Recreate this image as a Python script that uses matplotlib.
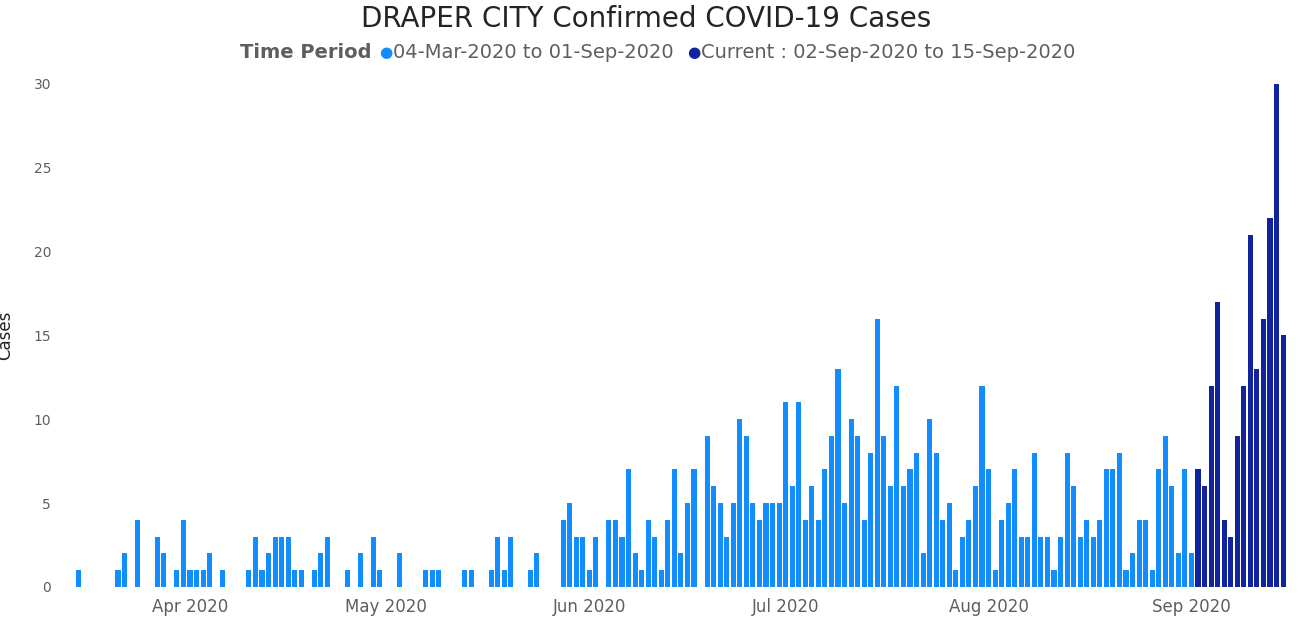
import matplotlib
matplotlib.use("Agg")
import matplotlib.pyplot as plt
import matplotlib.dates as mdates
import numpy as np
import datetime as dt

# day index from 15-Mar-2020 -> cases (zero days omitted)
past_cases = {0:1, 6:1, 7:2, 9:4, 12:3, 13:2, 15:1, 16:4, 17:1, 18:1, 19:1, 20:2, 22:1,
              26:1, 27:3, 28:1, 29:2, 30:3, 31:3, 32:3, 33:1, 34:1, 36:1, 37:2, 38:3, 41:1,
              43:2, 45:3, 46:1, 49:2, 53:1, 54:1, 55:1, 59:1, 60:1, 63:1, 64:3, 65:1, 66:3,
              69:1, 70:2, 74:4, 75:5, 76:3, 77:3, 78:1, 79:3, 81:4, 82:4, 83:3, 84:7, 85:2,
              86:1, 87:4, 88:3, 89:1, 90:4, 91:7, 92:2, 93:5, 94:7}
late_values = [9,6,5,3,5,10,9,5,4,5,5,5,11,6,11,4,6,4,7,9,13,5,10,9,4,8,16,9,6,12,6,7,8,
               2,10,8,4,5,1,3,4,6,12,7,1,4,5,7,3,3,8,3,3,1,3,8,6,3,4,3,4,7,7,8,1,2,4,4,1,7,9,6,2,7,2]
for i, v in enumerate(late_values):
    past_cases[96 + i] = v
current_cases = [7,6,12,17,4,3,9,12,21,13,16,22,30,15]  # 02-Sep .. 15-Sep

start = dt.date(2020, 3, 15)
past_dates = [start + dt.timedelta(days=k) for k in sorted(past_cases)]
past_vals = [past_cases[k] for k in sorted(past_cases)]
cur_dates = [dt.date(2020, 9, 2) + dt.timedelta(days=i) for i in range(len(current_cases))]

light = "#118DFF"
dark = "#12239E"

fig = plt.figure(figsize=(13.06, 6.21), dpi=100)
ax = fig.add_axes([0.054, 0.055, 0.934, 0.81])
ax.bar(past_dates, past_vals, width=0.78, color=light)
ax.bar(cur_dates, current_cases, width=0.78, color=dark)
ax.set_xlim(mdates.date2num(dt.date(2020, 3, 13)) + 0.75, mdates.date2num(dt.date(2020, 9, 16)) + 0.1)
ax.set_ylim(0, 30)
ax.set_yticks([0, 5, 10, 15, 20, 25, 30])
ax.xaxis.set_major_locator(mdates.MonthLocator(bymonth=[4, 5, 6, 7, 8, 9]))
ax.xaxis.set_major_formatter(mdates.DateFormatter("%b %Y"))
ax.tick_params(axis="x", length=0, labelsize=12, colors="#605E5C", pad=8)
ax.tick_params(axis="y", length=0, labelsize=10, colors="#605E5C", pad=14)
for s in ax.spines.values():
    s.set_visible(False)
ax.set_ylabel("Cases", fontsize=12, color="#252423", labelpad=14)

fig.text(0.495, 0.970, "DRAPER CITY Confirmed COVID-19 Cases", ha="center", va="center",
         fontsize=20, color="#252423")
ly = 0.915
fig.text(0.184, ly, "Time Period", ha="left", va="center", fontsize=14, fontweight="bold", color="#605E5C")
fig.text(0.290, ly, "\u25CF", ha="left", va="center", fontsize=11, color=light)
fig.text(0.301, ly, "04-Mar-2020 to 01-Sep-2020", ha="left", va="center", fontsize=14, color="#605E5C")
fig.text(0.526, ly, "\u25CF", ha="left", va="center", fontsize=11, color=dark)
fig.text(0.537, ly, "Current : 02-Sep-2020 to 15-Sep-2020", ha="left", va="center", fontsize=14, color="#605E5C")

fig.savefig("out.png", dpi=100)
